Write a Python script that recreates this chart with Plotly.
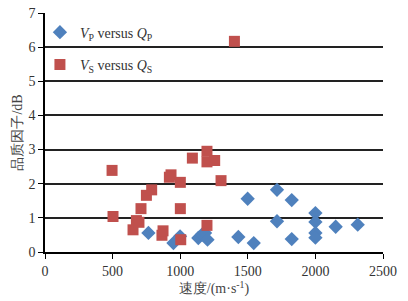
import plotly.graph_objects as go

# P-wave: velocity vs quality factor
vp = [765, 950, 999, 1134, 1161, 1184, 1202, 1430, 1544, 1499, 1716, 1716,
      1825, 1825, 2000, 2000, 2000, 2000, 2150, 2313]
qp = [0.56, 0.26, 0.46, 0.41, 0.51, 0.56, 0.36, 0.44, 0.26, 1.56, 1.82, 0.90,
      1.52, 0.38, 1.14, 0.88, 0.56, 0.42, 0.74, 0.80]

# S-wave: velocity vs quality factor
vs = [496, 503, 651, 676, 695, 710, 750, 789, 865, 873, 920, 932,
      1001, 1001, 1004, 1090, 1198, 1198, 1255, 1302, 1198, 1401]
qs = [2.39, 1.04, 0.65, 0.92, 0.87, 1.27, 1.66, 1.82, 0.49, 0.62, 2.19, 2.26,
      2.04, 1.27, 0.36, 2.75, 2.95, 2.64, 2.68, 2.09, 0.78, 6.17]

x_ticks = [0, 500, 1000, 1500, 2000, 2500]
y_ticks = [0, 1, 2, 3, 4, 5, 6, 7]

FONT = "Liberation Serif"

fig = go.Figure()
fig.add_trace(go.Scatter(
    x=vp, y=qp, mode="markers", name="<i>V</i><sub>P</sub> versus <i>Q</i><sub>P</sub>",
    legendgroup="p",
    marker=dict(symbol="diamond", size=11, color="#4F81BD"),
))
fig.add_trace(go.Scatter(
    x=vs, y=qs, mode="markers", name="<i>V</i><sub>S</sub> versus <i>Q</i><sub>S</sub>",
    legendgroup="s",
    marker=dict(symbol="square", size=11, color="#C0504D"),
))

fig.update_layout(
    width=408, height=301,
    margin=dict(l=45, r=25, t=13, b=49),
    paper_bgcolor="white", plot_bgcolor="white",
    font=dict(family=FONT, size=14, color="#333333"),
    showlegend=True,
    legend=dict(
        x=-0.015, y=0.985, xanchor="left", yanchor="top",
        bgcolor="rgba(0,0,0,0)", tracegroupgap=11, itemwidth=30,
        traceorder="grouped",
        font=dict(family=FONT, size=14, color="#333333"),
    ),
    xaxis=dict(
        range=[0, 2500], tickvals=x_ticks, ticks="outside", ticklen=5,
        tickcolor="black", showline=True, linecolor="black", linewidth=1.5,
        showgrid=False, zeroline=False, automargin=False,
        tickfont=dict(family=FONT, size=14, color="#333333"),
        title=dict(text="速度/(m·s<sup>-1</sup>)", standoff=0,
                   font=dict(family=FONT, size=14, color="#444444")),
    ),
    yaxis=dict(
        range=[0, 7], tickvals=y_ticks, ticks="outside", ticklen=5,
        tickcolor="black", showline=True, linecolor="black", linewidth=1.5,
        showgrid=True, gridcolor="#222222", gridwidth=1.5, zeroline=False,
        automargin=False,
        tickfont=dict(family=FONT, size=14, color="#333333"),
        title=dict(text="品质因子/dB", standoff=3,
                   font=dict(family=FONT, size=14, color="#444444")),
    ),
)

fig.write_html(
    "out.html",
    config={"displayModeBar": False},
    post_script="document.body.style.margin='0';document.body.style.overflow='hidden';",
)
